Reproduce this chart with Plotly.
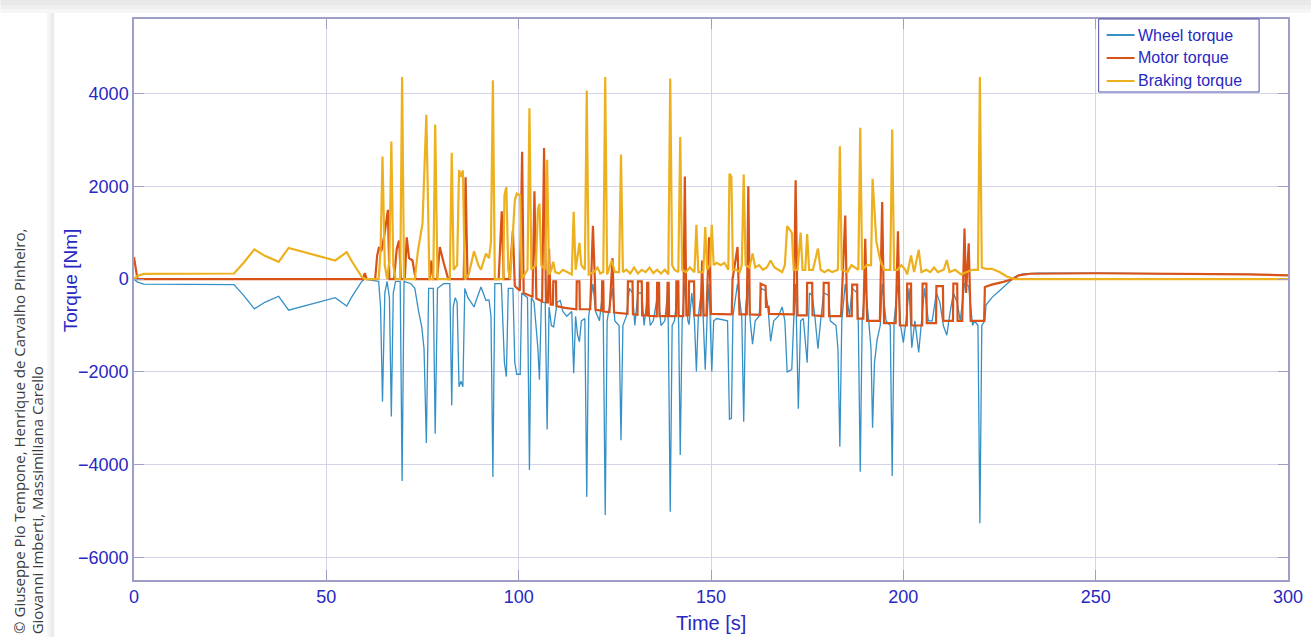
import plotly.graph_objects as go

# ---------------- data ----------------
# (time [s], torque [Nm]) pairs for each series
braking_pts = [
    (0, 0), (0.8, 60), (2.5, 110), (10, 110), (20, 110), (26, 120), (28.5, 350),
    (31.3, 640), (34, 500), (37.6, 370), (40.2, 670), (46, 540), (52.3, 400),
    (55.3, 580), (56.5, 400), (59.2, 50), (60, 0), (63.6, 0), (64.1, 600),
    (64.6, 2640), (65.2, 300), (65.8, 0), (66.4, 400), (66.9, 2960), (67.4, 300),
    (68.0, 0), (69.2, 0), (69.7, 4350), (70.2, 0), (73.0, 0), (73.8, 600),
    (75.0, 1200), (76.0, 3540), (76.8, 0), (77.8, 0), (78.3, 3330), (78.9, 0),
    (82.1, 0), (82.6, 2720), (83.1, 200), (84.0, 300), (84.5, 2350), (85.0, 2200),
    (85.5, 2340), (86.0, 0), (87.0, 100), (88.4, 600), (89.5, 300), (90.2, 200),
    (91.5, 550), (92.3, 450), (92.8, 800), (93.3, 4280), (93.8, 0), (96.0, 0),
    (96.3, 1800), (96.8, 1980), (97.3, 200), (97.8, 0), (99.0, 1700), (99.5, 1840),
    (100.4, 1800), (100.8, 0), (102.3, 200), (102.8, 3680), (103.3, 200),
    (104.5, 300), (105.0, 1500), (105.4, 1620), (105.9, 300), (106.9, 200),
    (107.4, 2570), (107.9, 100), (108.5, 200), (109.0, 370), (109.5, 150),
    (110.5, 120), (111.5, 200), (112.5, 150), (113.8, 100), (114.3, 1450),
    (114.8, 200), (115.5, 600), (115.8, 780), (116.3, 300), (117.2, 200),
    (117.7, 4060), (118.2, 100), (119.5, 150), (120.5, 250), (121.2, 120),
    (122.0, 150), (122.5, 4350), (123.0, 100), (124.2, 400), (125.0, 150),
    (126.1, 150), (126.6, 2680), (127.1, 150), (128, 200), (129, 120), (130, 250),
    (131, 120), (132, 200), (133, 150), (134, 250), (135, 130), (136, 200),
    (137, 120), (138, 200), (138.9, 100), (139.4, 4320), (139.9, 300),
    (140.5, 200), (141.5, 150), (142.0, 3060), (142.5, 200), (143.5, 150),
    (144.5, 250), (145.7, 150), (146.2, 1170), (146.7, 150), (148.0, 150),
    (148.5, 1120), (149.0, 200), (149.7, 300), (150.2, 1170), (150.7, 300),
    (151.5, 350), (152.5, 300), (153.5, 350), (154.5, 200), (154.8, 2270),
    (155.3, 2200), (155.7, 200), (156.5, 200), (157.5, 150), (158.0, 300),
    (158.5, 2250), (159.0, 300), (160.0, 250), (160.8, 550), (161.5, 250),
    (162.5, 300), (163.5, 200), (164.5, 250), (165.5, 400), (166.5, 250),
    (167.5, 200), (168.5, 150), (169.2, 300), (169.8, 1140), (171.0, 1000),
    (171.5, 200), (172.5, 200), (173.3, 1000), (173.8, 200), (174.5, 200),
    (175.0, 970), (175.5, 200), (176.5, 200), (177.8, 660), (178.5, 200),
    (179.5, 150), (180.5, 200), (181.5, 150), (183.0, 200), (183.5, 2860),
    (184.0, 200), (185.5, 150), (186.5, 300), (187.5, 250), (188.3, 200),
    (188.8, 3260), (189.3, 200), (190.5, 300), (191.6, 300), (192.0, 2160),
    (193.0, 800), (194.0, 400), (195.0, 200), (196.6, 200), (197.1, 3220),
    (197.6, 200), (198.5, 200), (199.5, 300), (200.5, 200), (201.0, 100),
    (202.0, 510), (202.8, 150), (204.0, 630), (204.7, 150), (206, 200),
    (207, 150), (208, 250), (209, 150), (210.5, 200), (211.3, 410), (212, 150),
    (213.5, 200), (215, 100), (216.5, 150), (218, 200), (219.4, 200),
    (219.9, 4350), (220.4, 250), (221.5, 220), (223, 220), (225, 150), (227, 50),
    (229, 0), (300, 0),
]

motor_pts = [
    (0, 470), (0.4, 250), (0.9, 0), (59.5, 0), (60.0, 130), (60.5, 0), (62.7, 0),
    (63.2, 500), (63.7, 690), (64.3, 600), (65.2, 1000), (66.0, 1490), (66.4, 0),
    (67.6, 0), (68.3, 650), (68.9, 830), (69.4, 0), (70.4, 0), (70.9, 900),
    (71.5, 450), (72.4, 400), (73.2, 0), (76.9, 0), (77.3, 400), (77.8, 0),
    (78.8, 0), (79.5, 690), (80.5, 350), (81.7, 0), (85.7, 0), (86.2, 2190),
    (86.7, 0), (94.8, 0), (95.6, 1460), (96.1, 0), (97.6, 0), (98.5, 1050),
    (99.0, -150), (100.3, -250), (100.9, 2740), (101.3, -300), (103.6, -380),
    (104.1, 1890), (104.6, -420), (106.1, -480), (106.6, 2820), (107.1, -500),
    (107.6, -500), (107.9, 650), (108.3, -550), (108.9, -550), (109.0, -50),
    (109.7, -50), (109.8, -580), (112.0, -620), (115.0, -650), (115.1, -50),
    (115.8, -50), (115.9, -650), (118.6, -650), (118.8, 0), (119.3, 1145),
    (119.8, 0), (120.0, -660), (121.6, -680), (121.7, -50), (122.0, -50),
    (122.1, -700), (123.6, -710), (124.0, 0), (124.4, 450), (124.8, -720),
    (128.3, -750), (128.4, -50), (129.6, -50), (129.7, -760), (130.9, -770),
    (131.0, -50), (132.0, -50), (132.1, -780), (133.3, -780), (133.4, -80),
    (133.7, -80), (133.8, -790), (135.9, -800), (136.0, -80), (136.5, -80),
    (136.6, -800), (138.6, -800), (138.7, -80), (139.0, -80), (139.1, -800),
    (140.9, -800), (141.0, -50), (141.5, -50), (141.6, -800), (142.8, -800),
    (143.2, 2210), (143.6, -780), (144.2, -780), (144.3, -50), (145.6, -50),
    (145.7, -780), (147.3, -780), (147.7, 400), (148.1, -780), (148.8, -780),
    (149.5, 900), (150.0, -750), (155.4, -760), (155.6, 0), (156.9, 690),
    (157.4, -760), (159.3, -760), (159.7, 2000), (160.1, -760), (162.8, -770),
    (162.9, -100), (164.2, -150), (164.3, -600), (165.0, -600), (165.1, -750),
    (171.5, -760), (172.0, 2130), (172.5, -780), (174.9, -780), (175.0, -80),
    (176.3, -80), (176.4, -780), (179.2, -800), (179.3, -80), (180.6, -80),
    (180.7, -800), (183.8, -800), (184.2, 0), (184.9, 1370), (185.4, -800),
    (186.6, -800), (186.7, -120), (188.0, -120), (188.1, -850), (189.6, -850),
    (190.1, 870), (190.6, -900), (193.9, -900), (194.5, 1660), (195.0, -950),
    (198.0, -950), (198.6, 1030), (199.1, -1000), (200.9, -1000), (201.0, -100),
    (202.0, -100), (202.1, -1000), (204.9, -1000), (205.0, -100), (206.0, -100),
    (206.1, -950), (208.5, -950), (208.6, -150), (210.3, -150), (210.4, -900),
    (212.9, -900), (213.0, -100), (214.0, -100), (214.1, -900), (215.3, -900),
    (215.9, 1090), (216.3, -300), (217.0, 770), (217.5, -900), (221.0, -900),
    (221.2, -170), (223.0, -120), (226.0, -60), (228.5, 0), (230.0, 80),
    (233.0, 115), (250.0, 125), (270.0, 120), (290.0, 100), (300.0, 80),
]

wheel_pts = [
    (0, 0), (0.8, -60), (2.5, -110), (26, -120), (28.5, -350), (31.3, -640),
    (34, -500), (37.6, -370), (40.2, -670), (46, -540), (52.3, -400),
    (55.3, -580), (56.5, -400), (59.2, -50), (60.0, 0), (63.6, -50), (64.1, -600),
    (64.6, -2640), (65.2, -300), (65.8, -50), (66.4, -400), (66.9, -2960),
    (67.4, -300), (68.0, -50), (69.2, -50), (69.7, -4350), (70.2, -50),
    (72.0, -100), (73.0, -200), (74.0, -700), (74.8, -1030), (75.4, -1500),
    (76.0, -3530), (76.6, -200), (77.8, -200), (78.3, -3330), (78.9, -200),
    (80.5, -100), (82.1, -100), (82.6, -2720), (83.0, -600), (83.5, -400),
    (84.0, -500), (84.5, -2320), (85.0, -2200), (85.5, -2320), (86.0, -200),
    (86.8, -400), (87.5, -500), (88.4, -600), (89.0, -450), (90.2, -170),
    (91.0, -350), (91.5, -460), (92.3, -450), (92.8, -800), (93.3, -4260),
    (93.8, -100), (95.5, -100), (96.3, -1800), (96.8, -2100), (97.3, -200),
    (98.5, -200), (99.0, -1800), (99.5, -2050), (100.4, -2050), (100.8, -300),
    (102.3, -400), (102.8, -4110), (103.3, -400), (104.0, -500), (105.0, -1500),
    (105.4, -2170), (105.9, -500), (106.9, -500), (107.4, -3240), (107.9, -600),
    (108.5, -1000), (109.1, -1030), (110.0, -500), (110.8, -460), (111.5, -700),
    (112.5, -800), (113.8, -700), (114.3, -2030), (114.8, -800), (115.3, -1200),
    (115.8, -1350), (116.3, -900), (117.2, -850), (117.7, -4690), (118.2, -800),
    (119.3, -100), (120.0, -700), (121.0, -900), (121.8, -300), (122.0, -900),
    (122.5, -5080), (123.0, -900), (124.4, -200), (125.0, -900), (126.1, -1000),
    (126.6, -3470), (127.1, -1000), (128.0, -800), (128.8, -200), (129.6, -300),
    (130.2, -1000), (131.0, -300), (132.0, -300), (132.6, -1000), (133.5, -350),
    (134.2, -1000), (135.0, -900), (136.2, -300), (137.0, -1000), (138.0, -900),
    (138.7, -300), (138.9, -1000), (139.4, -5010), (139.9, -1000), (140.5, -900),
    (141.3, -300), (141.6, -1000), (142.0, -3790), (142.5, -900), (143.2, -100),
    (144.0, -900), (144.3, -980), (145.0, -300), (145.7, -900), (146.2, -1990),
    (146.7, -800), (147.7, -100), (148.0, -900), (148.5, -1950), (149.0, -800),
    (149.5, -100), (150.2, -1990), (150.7, -900), (151.5, -850), (153.0, -880),
    (154.3, -900), (154.8, -3020), (155.3, -3000), (155.7, -800), (156.9, -100),
    (158.0, -800), (158.5, -3070), (159.0, -600), (159.7, -100), (160.2, -900),
    (160.8, -1400), (161.5, -900), (162.5, -800), (163.0, -200), (164.2, -250),
    (164.8, -600), (165.5, -1340), (166.3, -900), (167.5, -800), (168.5, -600),
    (169.2, -900), (169.8, -2000), (171.0, -1950), (171.5, -900), (172.0, -100),
    (172.7, -2790), (173.3, -900), (174.0, -850), (175.0, -1800), (175.6, -300),
    (176.3, -350), (177.0, -800), (177.8, -1500), (178.5, -900), (179.3, -300),
    (180.6, -350), (181.0, -900), (182.5, -1000), (183.0, -1500), (183.5, -3610),
    (184.0, -900), (184.9, -100), (186.0, -800), (186.7, -200), (188.0, -300),
    (188.3, -1000), (188.8, -4150), (189.3, -900), (190.1, -100), (191.0, -900),
    (191.6, -1500), (192.0, -3200), (192.5, -1800), (193.2, -1300), (194.0, -1000),
    (194.5, -100), (195.5, -900), (196.6, -1000), (197.1, -4240), (197.6, -900),
    (198.6, -100), (199.3, -1000), (200.0, -1370), (200.7, -900), (201.5, -200),
    (202.2, -1480), (203.0, -900), (204.0, -1580), (204.7, -900), (205.5, -200),
    (206.5, -900), (207.5, -900), (208.6, -300), (209.5, -500), (210.4, -1000),
    (211.3, -1210), (212.0, -800), (213.0, -300), (214.0, -500), (214.8, -900),
    (215.9, -100), (217.0, -150), (218.0, -1000), (218.5, -900), (219.4, -1000),
    (219.9, -5260), (220.4, -1000), (221.2, -900), (221.5, -560), (223.0, -400),
    (225.0, -250), (227.0, -100), (229.0, 50), (231.0, 110), (235.0, 125),
    (250.0, 130), (270.0, 120), (290.0, 100), (300.0, 80),
]

series_names = ["Wheel torque", "Motor torque", "Braking torque"]
x_ticks = [0, 50, 100, 150, 200, 250, 300]
y_ticks = [-6000, -4000, -2000, 0, 2000, 4000]
x_title = "Time [s]"
y_title = "Torque [Nm]"
credit_lines = ["© Giuseppe Pio Tempone, Henrique de Carvalho Pinheiro,",
                "Giovanni Imberti, Massimiliana Carello"]

# ---------------- figure ----------------
W, H = 1315, 637
L, R, T, B = 134, 23, 19, 57
PW, PH = W - L - R, H - T - B


def px(x):
    return (x - L) / PW


def py(y):
    return (H - B - y) / PH


FONT = "Liberation Sans, Arial, sans-serif"
BLUE_TXT = "#2828c2"
AXIS_C = "#9e9ec6"
GRID_C = "#d3d3e9"

colors = ["#3590c6", "#D95319", "#EDB120"]
widths = [1.3, 2.2, 2.2]

fig = go.Figure()
for name, pts, c, w in zip(series_names, [wheel_pts, motor_pts, braking_pts], colors, widths):
    fig.add_trace(go.Scatter(
        x=[p[0] for p in pts], y=[p[1] for p in pts], mode="lines", name=name,
        line=dict(color=c, width=w), hoverinfo="skip", showlegend=False))

axis_common = dict(
    showgrid=True, gridcolor=GRID_C, gridwidth=1, zeroline=False,
    showline=True, linecolor=AXIS_C, linewidth=1.5, mirror="ticks",
    ticks="inside", ticklen=10, tickcolor=AXIS_C, tickwidth=1.2,
    tickfont=dict(family=FONT, size=18, color=BLUE_TXT),
)

shapes = [
    # page background around the card (light grey shadow)
    dict(type="rect", xref="paper", yref="paper", x0=px(0), x1=px(W), y0=py(0), y1=py(5),
         fillcolor="#e9e9e9", line=dict(width=0), layer="below"),
    dict(type="rect", xref="paper", yref="paper", x0=px(0), x1=px(W), y0=py(5), y1=py(9),
         fillcolor="#efefef", line=dict(width=0), layer="below"),
    dict(type="rect", xref="paper", yref="paper", x0=px(0), x1=px(W), y0=py(9), y1=py(13),
         fillcolor="#f6f6f6", line=dict(width=0), layer="below"),
    dict(type="rect", xref="paper", yref="paper", x0=px(47), x1=px(50), y0=py(H), y1=py(13),
         fillcolor="#f4f4f4", line=dict(width=0), layer="below"),
    dict(type="rect", xref="paper", yref="paper", x0=px(50), x1=px(54), y0=py(H), y1=py(13),
         fillcolor="#ebebeb", line=dict(width=0), layer="below"),
    # legend box
    dict(type="rect", xref="paper", yref="paper", x0=px(1102), x1=px(1263), y0=py(92), y1=py(19),
         fillcolor="white", line=dict(color="#4d4da6", width=1), layer="above"),
]

annotations = [
    dict(text=x_title, xref="paper", yref="paper", x=0.5, y=py(623), xanchor="center",
         yanchor="middle", showarrow=False, font=dict(family=FONT, size=20, color=BLUE_TXT)),
    dict(text=y_title, xref="paper", yref="paper", x=px(70), y=py(281), xanchor="center",
         yanchor="middle", textangle=-90, showarrow=False,
         font=dict(family=FONT, size=19, color=BLUE_TXT)),
    dict(text=credit_lines[0], xref="paper", yref="paper", x=px(18), y=py(636),
         xanchor="center", yanchor="bottom", textangle=-90, showarrow=False,
         font=dict(family="Open Sans, sans-serif", size=15, color="#3c3c3c")),
    dict(text=credit_lines[1], xref="paper", yref="paper", x=px(37), y=py(636),
         xanchor="center", yanchor="bottom", textangle=-90, showarrow=False,
         font=dict(family="Open Sans, sans-serif", size=15, color="#3c3c3c")),
]

# legend entries (sample line + label)
legend_rows = [35, 58, 81]
for name, c, row in zip(series_names, colors, legend_rows):
    shapes.append(dict(type="line", xref="paper", yref="paper", x0=px(1110), x1=px(1138),
                       y0=py(row), y1=py(row), line=dict(color=c, width=2), layer="above"))
    annotations.append(dict(text=name, xref="paper", yref="paper", x=px(1139), y=py(row),
                            xanchor="left", yanchor="middle", showarrow=False,
                            font=dict(family=FONT, size=16, color=BLUE_TXT)))

fig.update_layout(
    width=W, height=H,
    margin=dict(l=L, r=R, t=T, b=B),
    paper_bgcolor="white", plot_bgcolor="white",
    xaxis=dict(range=[0, 300], tickvals=x_ticks, **axis_common),
    yaxis=dict(range=[-6480, 5600], tickvals=y_ticks, **axis_common),
    showlegend=False,
    shapes=shapes,
    annotations=annotations,
)

fig.write_html("out.html", config={"displayModeBar": False},
               post_script="document.body.style.margin='0px';")
